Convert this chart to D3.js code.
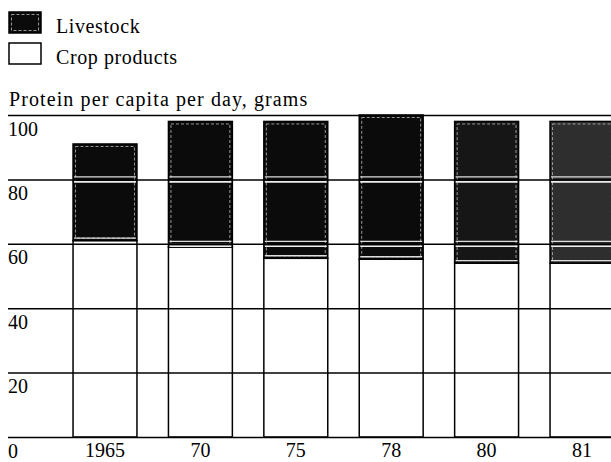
<!DOCTYPE html>
<html>
<head>
<meta charset="utf-8">
<script src="https://cdn.jsdelivr.net/npm/d3@7"></script>
<style>
  html, body { margin: 0; padding: 0; background: #fff; }
  svg { display: block; font-family: "Liberation Serif", "Times New Roman", serif; }
</style>
</head>
<body>
<svg id="chart" width="611" height="462"></svg>
<script>
// ---- data ----
const years = ["1965", "70", "75", "78", "80", "81"];
const cropProducts = [61, 59, 55.5, 55.2, 54, 54];
const livestock = [30, 39, 42.5, 44.8, 44, 44];
const livestockShade = ["#0b0b0b", "#0b0b0b", "#0b0b0b", "#0b0b0b", "#161616", "#2e2e2e"];
const yTicks = [0, 20, 40, 60, 80, 100];
const legendLabels = ["Livestock", "Crop products"];
const yTitle = "Protein per capita per day, grams";

const svg = d3.select("#chart");
const W = 611;
const FS = 20;

const y = d3.scaleLinear().domain([0, 100]).range([437, 115]);
const x = d3.scaleBand().domain(years).range([57.3, 629.7])
  .paddingInner(0.33).paddingOuter(0.165);

// ---- legend ----
const legend = svg.append("g");
legendLabels.forEach((lab, i) => {
  const gy = 12 + i * 31;
  legend.append("rect")
    .attr("x", 9).attr("y", gy).attr("width", 32).attr("height", 21)
    .attr("fill", i === 0 ? "#0b0b0b" : "#fff")
    .attr("stroke", "#000").attr("stroke-width", 1.5);
  if (i === 0) {
    legend.append("rect")
      .attr("x", 11.5).attr("y", gy + 2.5).attr("width", 27).attr("height", 16)
      .attr("fill", "none").attr("stroke", "#bbb").attr("stroke-width", 0.8)
      .attr("stroke-dasharray", "3,2");
  }
  legend.append("text")
    .attr("x", 56).attr("y", gy + 21)
    .attr("font-size", FS).attr("letter-spacing", 0.6).text(lab);
});

svg.append("text").attr("x", 9).attr("y", 106)
  .attr("font-size", FS).attr("letter-spacing", 1.1).text(yTitle);

// ---- bars ----
const bars = svg.append("g");
years.forEach((yr, i) => {
  const bx = x(yr), bw = x.bandwidth();
  const c = cropProducts[i], l = livestock[i];
  bars.append("rect")
    .attr("x", bx).attr("y", y(c)).attr("width", bw).attr("height", y(0) - y(c))
    .attr("fill", "#fff").attr("stroke", "#000").attr("stroke-width", 1.5);
  bars.append("rect")
    .attr("x", bx).attr("y", y(c + l)).attr("width", bw).attr("height", y(c) - y(c + l))
    .attr("fill", livestockShade[i]).attr("stroke", "#000").attr("stroke-width", 1.5);
  // faint inner edge of the shaded segment
  bars.append("rect")
    .attr("x", bx + 2.5).attr("y", y(c + l) + 2.5).attr("width", bw - 5)
    .attr("height", Math.max(0, y(c) - y(c + l) - 5))
    .attr("fill", "none").attr("stroke", "#bbb").attr("stroke-width", 0.8)
    .attr("stroke-dasharray", "3,2");
  // white halo where gridlines cross the shaded segment
  yTicks.filter(t => t > c && t < c + l).forEach(t => {
    bars.append("line")
      .attr("x1", bx + 1).attr("x2", bx + bw - 1)
      .attr("y1", y(t) + 2.5).attr("y2", y(t) + 2.5)
      .attr("stroke", "#eee").attr("stroke-width", 1.6);
    bars.append("line")
      .attr("x1", bx + 1).attr("x2", bx + bw - 1)
      .attr("y1", y(t) - 2.5).attr("y2", y(t) - 2.5)
      .attr("stroke", "#ddd").attr("stroke-width", 1.2);
  });
  // white gap at the crop / livestock boundary
  bars.append("line")
    .attr("x1", bx + 1).attr("x2", bx + bw - 1)
    .attr("y1", y(c) - 2.5).attr("y2", y(c) - 2.5)
    .attr("stroke", "#ddd").attr("stroke-width", 1.4);
});

// ---- y axis with full-width gridlines ----
const yAxis = d3.axisRight(y).tickValues(yTicks).tickSize(W - 8).tickFormat(d3.format("d"));
const ya = svg.append("g").attr("transform", "translate(8,0)").call(yAxis);
ya.select(".domain").remove();
ya.selectAll(".tick line").attr("stroke", "#000").attr("stroke-width", 1.5);
ya.selectAll(".tick text")
  .attr("x", 0).attr("y", 20).attr("dy", 0)
  .attr("text-anchor", "start")
  .attr("font-family", "Liberation Serif, serif")
  .attr("font-size", FS).attr("fill", "#000");

// ---- x axis ----
const xAxis = d3.axisBottom(x).tickSize(0).tickPadding(0);
const xa = svg.append("g").attr("transform", "translate(0,437)").call(xAxis);
xa.select(".domain").remove();
xa.selectAll(".tick text")
  .attr("y", 20).attr("dy", 0)
  .attr("font-family", "Liberation Serif, serif")
  .attr("font-size", FS).attr("fill", "#000");
</script>
</body>
</html>
